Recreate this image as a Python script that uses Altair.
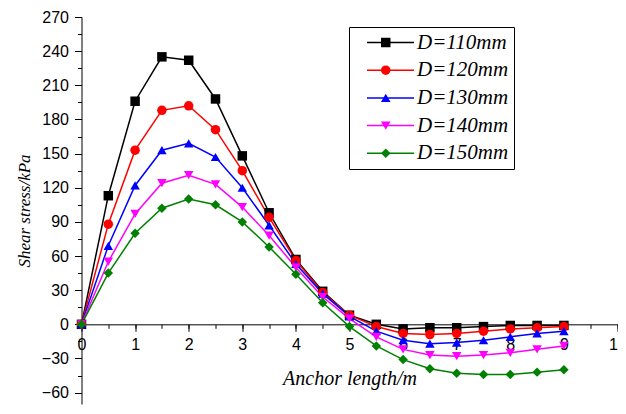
import altair as alt
import pandas as pd

# ---- data ----
anchor_length = [0, 0.5, 1, 1.5, 2, 2.5, 3, 3.5, 4, 4.5, 5, 5.5, 6, 6.5, 7, 7.5, 8, 8.5, 9]
d110 = [0, 113, 196, 235, 232, 198, 148, 98, 57, 29, 8, 0, -4, -3, -3, -2, -1, -1, -1]
d120 = [0, 88, 153, 188, 192, 171, 135, 94, 56, 28, 8, -2, -8, -9, -8, -6, -4, -3, -2]
d130 = [0, 69, 122, 153, 159, 147, 120, 87, 53, 27, 7, -6, -14, -17, -16, -14, -11, -8, -6]
d140 = [0, 55, 97, 124, 131, 123, 103, 78, 50, 24, 5, -11, -22, -27, -28, -27, -25, -22, -19]
d150 = [0, 45, 80, 102, 110, 105, 90, 68, 44, 19, -2, -19, -31, -39, -43, -44, -44, -42, -40]

series_names = ["D=110mm", "D=120mm", "D=130mm", "D=140mm", "D=150mm"]
series_keys = ["110", "120", "130", "140", "150"]
series_colors = ["#000000", "#ff0000", "#0000ff", "#ff00ff", "#008000"]
series_shapes = ["square", "circle", "triangle-up", "triangle-down", "diamond"]

y_major = list(range(-60, 271, 30))
y_minor = list(range(-60, 271, 15))
x_major = list(range(0, 11))
x_minor = [i / 2 for i in range(0, 21)]
y_domain = [-70, 270]
x_domain = [0, 10]

rows = []
for name, key, vals in zip(series_names, series_keys, [d110, d120, d130, d140, d150]):
    for xv, yv in zip(anchor_length, vals):
        rows.append({"x": xv, "y": yv, "series": name, "key": key})
df = pd.DataFrame(rows)

W, H = 536, 387
x_axis_offset = -H * (0 - y_domain[0]) / (y_domain[1] - y_domain[0])

serif = "Liberation Serif"
sans = "Liberation Sans"

xs = alt.Scale(domain=x_domain, nice=False, zero=False)
ys = alt.Scale(domain=y_domain, nice=False, zero=False)

common_axis = dict(grid=False, tickColor="black", domainColor="black",
                   labelColor="black", titleColor="black", tickWidth=1, domainWidth=1)

x_major_axis = alt.Axis(values=x_major, orient="bottom", offset=x_axis_offset,
                        title="Anchor length/m", format="d", tickSize=7, labelPadding=5,
                        titlePadding=16, titleFont=serif, titleFontStyle="italic",
                        titleFontWeight="normal", titleFontSize=20, labelFont=sans,
                        labelFontSize=16, labelFlush=False, labelOverlap=False, **common_axis)
y_major_axis = alt.Axis(values=y_major, orient="left", title="Shear stress/kPa", format="d",
                        tickSize=7, labelPadding=6, titlePadding=8, titleFont=serif,
                        titleFontStyle="italic", titleFontWeight="normal", titleFontSize=17,
                        labelFont=sans, labelFontSize=16, labelOverlap=False, **common_axis)
x_minor_axis = alt.Axis(values=x_minor, orient="bottom", offset=x_axis_offset, title=None,
                        labels=False, domain=False, tickSize=4, grid=False, tickColor="black")
y_minor_axis = alt.Axis(values=y_minor, orient="left", title=None, labels=False,
                        domain=False, tickSize=4, grid=False, tickColor="black")

legend_x = 267.5
legend_y = 10
line_legend = alt.Legend(orient="none", legendX=legend_x, legendY=legend_y, title=None,
                         symbolType="M-4.7,0H4.7", symbolSize=100, symbolStrokeWidth=1.5,
                         symbolOffset=26, labelOffset=16, labelFont=serif,
                         labelFontStyle="italic", labelFontSize=21, labelColor="black",
                         padding=5, rowPadding=5.7, strokeColor="black", labelLimit=0)
shape_legend = alt.Legend(orient="none", legendX=legend_x + 21.25, legendY=legend_y, title=None,
                          symbolSize=90, symbolStrokeWidth=0, labelExpr="''", labelFont=serif,
                          labelFontStyle="italic", labelFontSize=21, padding=5,
                          rowPadding=5.7, labelLimit=0)

lines = alt.Chart(df).mark_line(strokeWidth=1.5).encode(
    x=alt.X("x:Q", scale=xs, axis=x_major_axis),
    y=alt.Y("y:Q", scale=ys, axis=y_major_axis),
    stroke=alt.Stroke("series:N", scale=alt.Scale(domain=series_names, range=series_colors),
                      legend=line_legend),
)

points = alt.Chart(df).mark_point(filled=True, size=90, opacity=1).encode(
    x=alt.X("x:Q", scale=xs, axis=x_minor_axis),
    y=alt.Y("y:Q", scale=ys, axis=y_minor_axis),
    fill=alt.Fill("key:N", scale=alt.Scale(domain=series_keys, range=series_colors),
                  legend=shape_legend),
    shape=alt.Shape("key:N", scale=alt.Scale(domain=series_keys, range=series_shapes),
                    legend=shape_legend),
)

chart = alt.layer(lines, points).resolve_axis(
    x="independent", y="independent"
).properties(
    width=W, height=H,
    padding={"left": 73.5, "top": 9, "right": 0, "bottom": 1},
    autosize=alt.AutoSizeParams(type="none"),
).configure_view(strokeWidth=0)

chart.save("out.html", embed_options={"renderer": "svg", "actions": False})
